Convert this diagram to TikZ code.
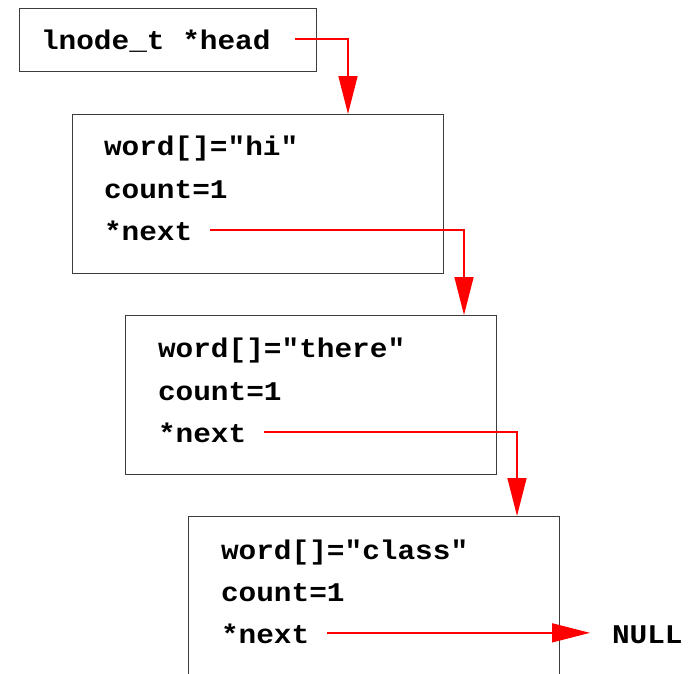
\documentclass[tikz,border=0pt]{standalone}
\usepackage{fontspec}
\setmonofont[FakeStretch=1.09]{Liberation Mono}
\usetikzlibrary{arrows.meta}
\definecolor{boxgray}{RGB}{60,60,60}
\tikzset{
  box/.style={draw=boxgray, line width=1pt, anchor=north west, inner sep=0pt, outer sep=0pt, minimum width=371pt, minimum height=159pt},
  txt/.style={anchor=base west, inner sep=0pt, outer sep=0pt, font=\ttfamily\bfseries\fontsize{27}{30}\selectfont},
  ptr/.style={draw=red, line width=1.5pt, -{Triangle[length=38pt,width=19pt]}},
}
\begin{document}
\begin{tikzpicture}[x=1pt,y=-1pt]
\clip (0,0) rectangle (688,673);
% boxes
\node[box, minimum width=297pt, minimum height=63pt] (b0) at (19,8) {};
\node[box] (b1) at (72,114) {};
\node[box] (b2) at (125,315) {};
\node[box] (b3) at (188,516) {};
% texts
\node[txt] (h) at (41,49) {lnode\_t *head};
\node[txt] (w1) at (104,155) {word[]="hi"};
\node[txt] (c1) at (104,198) {count=1};
\node[txt] (n1) at (104,240) {*next};
\node[txt] (w2) at (158,357) {word[]="there"};
\node[txt] (c2) at (158,400) {count=1};
\node[txt] (n2) at (158,442) {*next};
\node[txt] (w3) at (221,559) {word[]="class"};
\node[txt] (c3) at (221,601) {count=1};
\node[txt] (n3) at (221,643) {*next};
\node[txt] (null) at (612,643) {NULL};
% arrow targets
\coordinate (k1) at (348,114);
\coordinate (k2) at (464,315);
\coordinate (k3) at (517,516);
% pointers
\draw[ptr] ([xshift=24pt,yshift=8pt]h.mid east) -| (k1);
\draw[ptr] ([xshift=18pt,yshift=8pt]n1.mid east) -| (k2);
\draw[ptr] ([xshift=18pt,yshift=8pt]n2.mid east) -| (k3);
\draw[ptr] ([xshift=18pt,yshift=8pt]n3.mid east) -- ([xshift=-22pt,yshift=8pt]null.mid west);
\end{tikzpicture}
\end{document}
